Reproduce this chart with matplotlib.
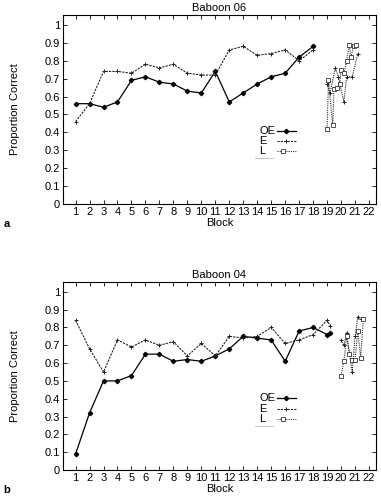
import matplotlib
matplotlib.use("Agg")
import matplotlib.pyplot as plt

plt.rcParams['font.family'] = ['Liberation Sans', 'DejaVu Sans']

# --- Baboon 06 ---
blocks06 = list(range(1, 19))
oe06 = [0.56, 0.56, 0.54, 0.57, 0.69, 0.71, 0.68, 0.67, 0.63, 0.62, 0.74, 0.57,
        0.62, 0.67, 0.71, 0.73, 0.82, 0.88]
e06 = [0.46, 0.56, 0.74, 0.74, 0.73, 0.78, 0.76, 0.78, 0.73, 0.72, 0.72, 0.86,
       0.88, 0.83, 0.84, 0.86, 0.80, 0.86]
e06_x = [19.0, 19.2, 19.6, 19.8, 20.2, 20.4, 20.8, 21.2]
e06_y = [0.67, 0.62, 0.76, 0.71, 0.57, 0.71, 0.71, 0.84]
l06_x = [19.0, 19.1, 19.4, 19.5, 19.7, 19.9, 20.0, 20.2, 20.4, 20.6, 20.7, 20.9, 21.1]
l06_y = [0.42, 0.69, 0.44, 0.64, 0.65, 0.67, 0.75, 0.73, 0.80, 0.89, 0.82, 0.88, 0.89]

# --- Baboon 04 ---
blocks04 = list(range(1, 20)) + [19.2]
oe04 = [0.09, 0.32, 0.50, 0.50, 0.53, 0.65, 0.65, 0.61, 0.62, 0.61, 0.64, 0.68,
        0.75, 0.74, 0.73, 0.61, 0.78, 0.80, 0.76, 0.77]
e04 = [0.84, 0.68, 0.55, 0.73, 0.69, 0.73, 0.70, 0.72, 0.64, 0.71, 0.64, 0.75,
       0.74, 0.75, 0.80, 0.71, 0.73, 0.76, 0.84, 0.81]
e04_x = [20.0, 20.2, 20.4, 20.6, 20.8, 21.0, 21.2, 21.4, 21.6]
e04_y = [0.73, 0.70, 0.77, 0.65, 0.55, 0.75, 0.86, 0.85, 0.85]
l04_x = [20.0, 20.2, 20.4, 20.6, 20.8, 21.0, 21.2, 21.4, 21.6]
l04_y = [0.53, 0.61, 0.75, 0.65, 0.62, 0.62, 0.78, 0.63, 0.85]

yticks = [0, 0.1, 0.2, 0.3, 0.4, 0.5, 0.6, 0.7, 0.8, 0.9, 1]
ytick_labels = ["0", "0.1", "0.2", "0.3", "0.4", "0.5", "0.6", "0.7", "0.8", "0.9", "1"]
xticks = list(range(1, 23))
labels = ["OE", "E", "L"]

FS = 8
W, H = 381, 496
fig = plt.figure(figsize=(W / 100, H / 100), dpi=100)

oe_style = dict(color="black", lw=0.9, ls="-", marker="D", ms=2.2)
e_style = dict(color="#222222", lw=0.8, ls=(0, (2, 1)), marker="+", ms=3.5, mew=0.7)
l_style = dict(color="#333333", lw=0.8, ls=(0, (1, 1)), marker="s", ms=3,
               mfc="white", mew=0.6)


def panel(rect, title, bx, oe, be, e, ex, ey, lx, ly, letter, leg_y):
    ax = fig.add_axes(rect)
    ax.plot(bx, oe, **oe_style)
    ax.plot(be, e, **e_style)
    ax.plot(ex, ey, **{**e_style, "ls": (0, (1, 1))})
    ax.plot(lx, ly, **l_style)
    ax.set_xlim(0.1, 22.5)
    ax.set_ylim(0, 1.055)
    ax.set_xticks(xticks)
    ax.set_xticklabels([str(t) for t in xticks], fontsize=FS)
    ax.set_yticks(yticks)
    ax.set_yticklabels(ytick_labels, fontsize=FS)
    ax.tick_params(direction="in", top=True, right=True, length=3, width=0.6, pad=2)
    for s in ax.spines.values():
        s.set_linewidth(0.8)
    ax.set_title(title, fontsize=FS, pad=3)
    ax.set_xlabel("Block", fontsize=FS, labelpad=1)
    ax.set_ylabel("Proportion Correct", fontsize=FS, labelpad=18)
    # gnuplot-style key: labels left-aligned, samples to the right
    for lab, st, yy in zip(labels, [oe_style, e_style, l_style], leg_y[:3]):
        ax.text(0.627, yy, lab, transform=ax.transAxes, fontsize=FS,
                va="center", ha="left")
        mid = 0.703 if st is l_style else 0.714
        ax.plot([0.684, mid, 0.744], [yy, yy, yy], transform=ax.transAxes,
                markevery=[1], clip_on=False, **st)
    ax.plot([0.613, 0.671], [leg_y[3], leg_y[3]], transform=ax.transAxes,
            color="#bbbbbb", lw=0.6)
    ax.text(-0.19, -0.08, letter, transform=ax.transAxes, fontsize=FS,
            fontweight="bold", va="top")
    return ax


panel([63 / W, 1 - 204 / H, 313 / W, 189 / H], "Baboon 06",
      blocks06, oe06, blocks06, e06, e06_x, e06_y, l06_x, l06_y, "a",
      [0.386, 0.333, 0.278, 0.243])
panel([63 / W, 1 - 470 / H, 313 / W, 188 / H], "Baboon 04",
      blocks04, oe04, blocks04, e04, e04_x, e04_y, l04_x, l04_y, "b",
      [0.385, 0.327, 0.273, 0.234])

fig.savefig("out.png", dpi=100)
